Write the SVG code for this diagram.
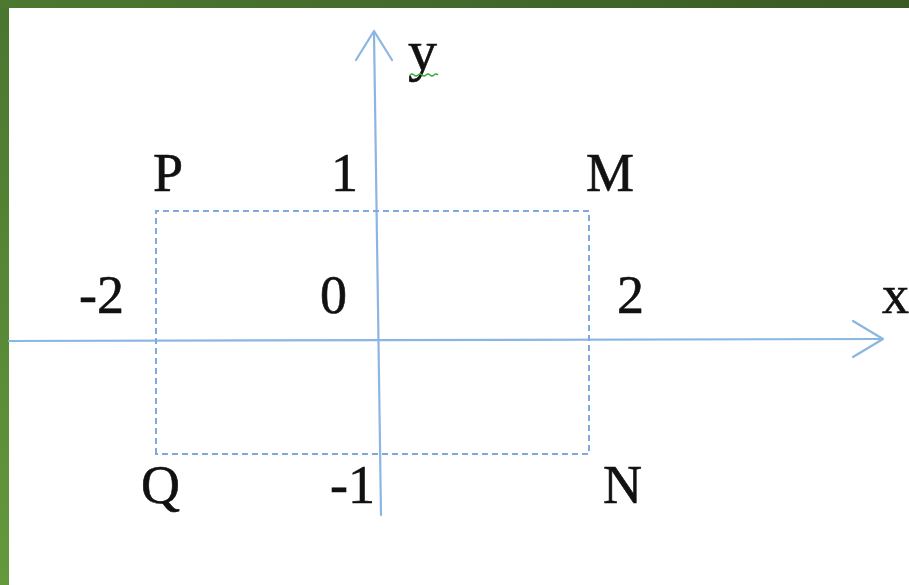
<svg xmlns="http://www.w3.org/2000/svg" width="909" height="585" viewBox="0 0 909 585">
  <defs>
    <linearGradient id="gl" x1="0" y1="0" x2="0" y2="1">
      <stop offset="0" stop-color="#4a7530"/>
      <stop offset="1" stop-color="#64993c"/>
    </linearGradient>
    <linearGradient id="gt" x1="0" y1="0" x2="1" y2="0">
      <stop offset="0" stop-color="#4d7832"/>
      <stop offset="1" stop-color="#3a5a24"/>
    </linearGradient>
  </defs>
  <style>
    .ax { stroke: #8cb6e2; stroke-width: 2.2; fill: none; stroke-linecap: round; stroke-linejoin: round; }
    .dash { stroke: #7faadb; stroke-width: 2; fill: none; stroke-dasharray: 6 4; }
    .lbl { font-family: "Liberation Serif", "DejaVu Serif", serif; font-size: 54px; fill: #111; stroke: #111; stroke-width: 0.6; }
  </style>
  <rect x="0" y="0" width="909" height="585" fill="#ffffff"/>
  <rect x="0" y="0" width="9" height="585" fill="url(#gl)"/>
  <rect x="0" y="0" width="909" height="8" fill="url(#gt)"/>

  <g id="connectors">
    <g id="x-axis">
      <path class="ax" d="M9,341 L882,339"/>
      <path class="ax" d="M853,321 L883,339 L853,357"/>
    </g>
    <g id="y-axis">
      <path class="ax" d="M381,515 L374,32"/>
      <path class="ax" d="M356,60 L374,31 L392,60"/>
    </g>
    <g id="rectangle">
      <path class="dash" d="M156,454 L156,211 L589,211 L589,454 Z"/>
    </g>
  </g>

  <g id="label-y">
    <text class="lbl" x="408" y="70" style="font-size:58px">y</text>
    <path d="M410,75 q2,-2 4,0 t4,0 t4,0 t4,0 t4,0 t4,0 t4,0" stroke="#3aa83a" stroke-width="1.2" fill="none"/>
  </g>
  <g id="label-x"><text class="lbl" x="882" y="313">x</text></g>
  <g id="node-P"><text class="lbl" x="153" y="191">P</text></g>
  <g id="label-1"><text class="lbl" x="331" y="191">1</text></g>
  <g id="node-M"><text class="lbl" x="586" y="191">M</text></g>
  <g id="label-m2"><text class="lbl" x="79" y="313">-2</text></g>
  <g id="label-0"><text class="lbl" x="320" y="313">0</text></g>
  <g id="label-2"><text class="lbl" x="617" y="313">2</text></g>
  <g id="node-Q"><text class="lbl" x="141" y="503">Q</text></g>
  <g id="label-m1"><text class="lbl" x="330" y="503">-1</text></g>
  <g id="node-N"><text class="lbl" x="603" y="503">N</text></g>
</svg>
